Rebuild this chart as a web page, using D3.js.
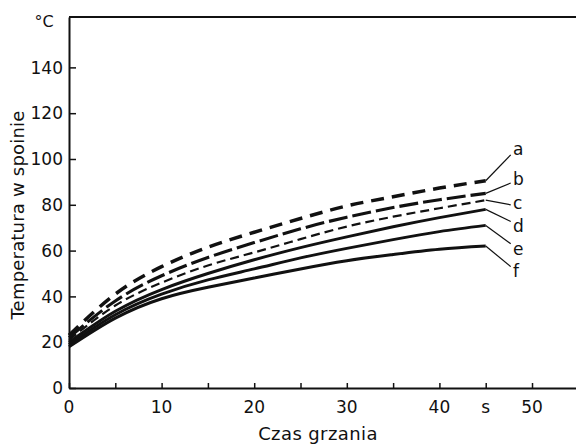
<!DOCTYPE html>
<html>
<head>
<meta charset="utf-8">
<script src="https://cdn.jsdelivr.net/npm/d3@7"></script>
<style>
body { margin: 0; background: #fff; }
svg text { font-family: "DejaVu Sans", sans-serif; fill: #111; }
</style>
</head>
<body>
<svg width="576" height="444"></svg>
<script>
// czas grzania [s]
var times = [0, 5, 10, 15, 20, 25, 30, 35, 40, 45];
var names = ["a", "b", "c", "d", "e", "f"];
// temperatura w spoinie [°C]
var tempA = [23, 41, 53, 61.5, 68, 74, 79.5, 83.5, 87.3, 90.5];
var tempB = [22, 38, 49, 57, 63.5, 69.5, 74.6, 78.8, 82.2, 85];
var tempC = [21, 36, 46, 53.5, 59.2, 65, 70.5, 74.8, 78.5, 82];
var tempD = [20, 33.5, 43, 50, 56, 61.3, 66, 70.4, 74.4, 78];
var tempE = [19, 32, 41, 47.2, 52, 56.8, 61, 64.8, 68.3, 71];
var tempF = [18, 30.5, 39, 44, 48, 52, 55.6, 58.3, 60.6, 62];
// koniec linii odniesienia (s, °C)
var leaderTime = [47.7, 47.7, 47.7, 47.7, 47.7, 47.7];
var leaderTemp = [101.8, 89.5, 80, 72.7, 63, 53];
// polozenie liter (s, °C)
var labelTime = [47.95, 47.95, 47.95, 47.95, 47.95, 47.95];
var labelTemp = [101.8, 88.7, 78.2, 68.2, 58.1, 48.5];
var yTicks = [0, 20, 40, 60, 80, 100, 120, 140];
var xTicks = [0, 5, 10, 15, 20, 25, 30, 35, 40, 45, 50];
var xLabels = { 0: "0", 10: "10", 20: "20", 30: "30", 40: "40", 45: "s", 50: "50" };

var series = [tempA, tempB, tempC, tempD, tempE, tempF];
// a, b dlugie kreski, c cienka kreska, d-f ciagle
var styles = [
  { w: 3.5, dash: "13,8" },
  { w: 3.1, dash: "19,5" },
  { w: 2.2, dash: "9,5" },
  { w: 2.9, dash: null },
  { w: 2.9, dash: null },
  { w: 3.1, dash: null }
];

var svg = d3.select("svg");

var x = d3.scaleLinear().domain([0, 54.75]).range([69, 576]);
var y = d3.scaleLinear().domain([0, 162]).range([388, 17]);

var xAxis = svg.append("g")
  .attr("transform", "translate(0," + y(0) + ")")
  .call(d3.axisBottom(x).tickValues(xTicks).tickSizeInner(-5).tickSizeOuter(0).tickFormat(""));
xAxis.select(".domain").attr("stroke", "#111").attr("stroke-width", 2);
xAxis.selectAll(".tick line").attr("stroke", "#111").attr("stroke-width", 1.5);

var yAxis = svg.append("g")
  .attr("transform", "translate(" + x(0) + ",0)")
  .call(d3.axisLeft(y).tickValues(yTicks).tickSizeInner(-7).tickSizeOuter(0).tickFormat(""));
yAxis.select(".domain").attr("stroke", "#111").attr("stroke-width", 2);
yAxis.selectAll(".tick line").attr("stroke", "#111").attr("stroke-width", 1.5);

// gorna ramka
svg.append("line")
  .attr("x1", x(0)).attr("x2", x(54.75))
  .attr("y1", y(162)).attr("y2", y(162))
  .attr("stroke", "#111").attr("stroke-width", 2);

svg.selectAll(".ylab")
  .data(yTicks)
  .enter().append("text")
  .attr("class", "ylab")
  .attr("x", x(0) - 6)
  .attr("y", function(d) { return y(d); })
  .attr("dy", "0.36em")
  .attr("text-anchor", "end")
  .style("font-size", "17px")
  .text(function(d) { return d; });

svg.selectAll(".xlab")
  .data(Object.keys(xLabels))
  .enter().append("text")
  .attr("class", "xlab")
  .attr("x", function(d) { return x(+d); })
  .attr("y", 413)
  .attr("text-anchor", "middle")
  .style("font-size", "17px")
  .text(function(d) { return xLabels[d]; });

svg.append("text")
  .attr("x", 44).attr("y", 27)
  .attr("text-anchor", "middle")
  .style("font-size", "16px")
  .text("°C");

svg.append("text")
  .attr("x", 318).attr("y", 440)
  .attr("text-anchor", "middle")
  .style("font-size", "18px")
  .style("letter-spacing", "0.4px")
  .text("Czas grzania");

svg.append("text")
  .attr("transform", "translate(24,215) rotate(-90)")
  .attr("text-anchor", "middle")
  .style("font-size", "18px")
  .style("letter-spacing", "0.2px")
  .text("Temperatura w spoinie");

var line = d3.line()
  .x(function(d, i) { return x(times[i]); })
  .y(function(d) { return y(d); })
  .curve(d3.curveNatural);

svg.selectAll(".curve")
  .data(series)
  .enter().append("path")
  .attr("class", "curve")
  .attr("d", line)
  .attr("fill", "none")
  .attr("stroke", "#111")
  .attr("stroke-width", function(d, i) { return styles[i].w; })
  .attr("stroke-dasharray", function(d, i) { return styles[i].dash; });

// linie odniesienia do liter
svg.selectAll(".leader")
  .data(series)
  .enter().append("line")
  .attr("class", "leader")
  .attr("x1", function(d) { return x(times[times.length - 1]); })
  .attr("y1", function(d) { return y(d[d.length - 1]); })
  .attr("x2", function(d, i) { return x(leaderTime[i]); })
  .attr("y2", function(d, i) { return y(leaderTemp[i]); })
  .attr("stroke", "#111")
  .attr("stroke-width", 1.2);

svg.selectAll(".name")
  .data(names)
  .enter().append("text")
  .attr("class", "name")
  .attr("x", function(d, i) { return x(labelTime[i]); })
  .attr("y", function(d, i) { return y(labelTemp[i]); })
  .style("font-size", "17px")
  .text(function(d) { return d; });
</script>
</body>
</html>
